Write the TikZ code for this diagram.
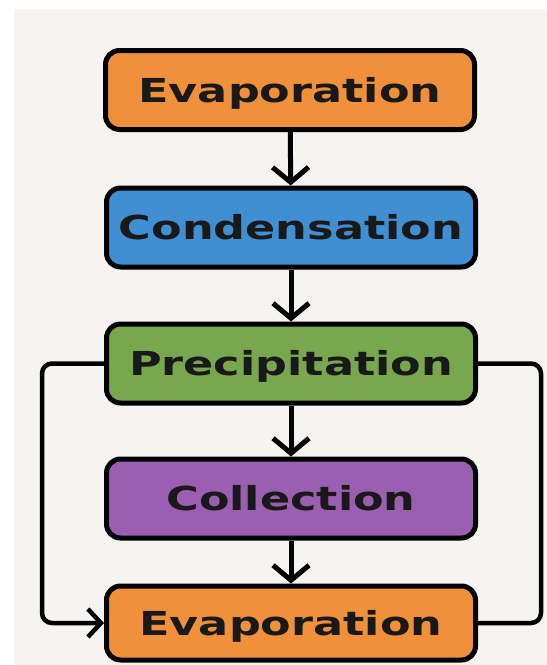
\documentclass[tikz,border=0pt]{standalone}
\usepackage{fontspec}
\setmainfont{DejaVu Sans}[FakeStretch=1.35]
\usetikzlibrary{arrows.meta}

\definecolor{paper}{HTML}{F5F4F0}
\definecolor{evapfill}{HTML}{F0903A}
\definecolor{condfill}{HTML}{3F8FD2}
\definecolor{precfill}{HTML}{78A84E}
\definecolor{collfill}{HTML}{9A5FB0}

\tikzset{
  stagebox/.style={draw=black, line width=5pt, rounded corners=14pt,
    minimum width=369pt, minimum height=79pt, inner sep=0pt,
    text height=24pt, text depth=0pt, text=black!90,
    font=\fontsize{33}{40}\selectfont\bfseries},
  flowarrow/.style={line width=5pt, -{Straight Barb[length=15pt, width=36pt]}},
  loopline/.style={line width=4.5pt, rounded corners=10pt}
}

\begin{document}
\begin{tikzpicture}[x=1pt, y=-1pt]
\useasboundingbox (0,0) rectangle (547,665);
\fill[white] (0,0) rectangle (547,665);
\fill[paper] (14,9) rectangle (547,665);

\node[stagebox, fill=evapfill] (evap) at (290,90) {Evaporation};
\node[stagebox, fill=condfill] (cond) at (291,227.5) {Condensation};
\node[stagebox, fill=precfill] (prec) at (291,363.5) {Precipitation};
\node[stagebox, fill=collfill] (coll) at (291,498.5) {Collection};
\node[stagebox, fill=evapfill, minimum height=74pt] (evapb) at (291,623) {Evaporation};

\draw[flowarrow] (evap) -- (cond);
\draw[flowarrow] (cond) -- (prec);
\draw[flowarrow] (prec) -- (coll);
\draw[flowarrow] (coll) -- (evapb);

\coordinate (leftturn) at (42,500);
\coordinate (rightturn) at (541,500);
\draw[loopline, -{Straight Barb[length=13pt, width=28pt]}] (prec.west) -| (leftturn) |- (evapb.west);
\draw[loopline] (prec.east) -| (rightturn) |- (evapb.east);
\end{tikzpicture}
\end{document}
